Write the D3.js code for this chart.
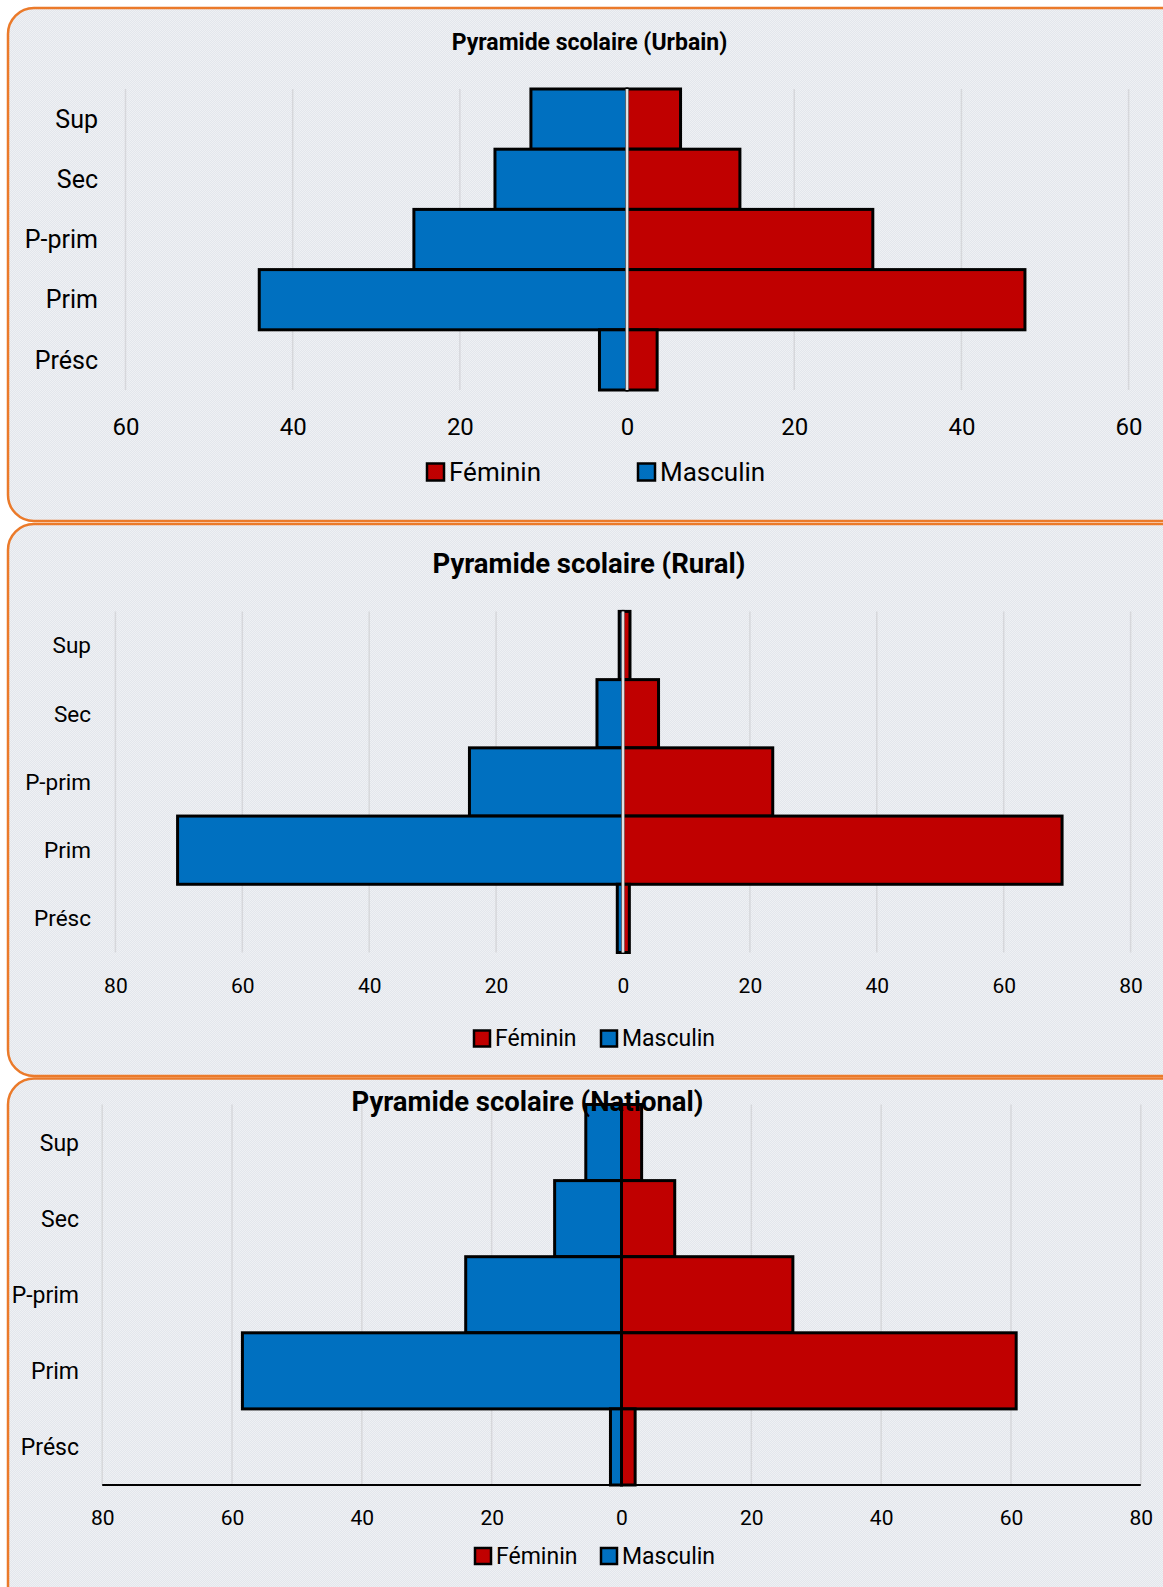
<!DOCTYPE html>
<html>
<head>
<meta charset="utf-8">
<script src="https://cdn.jsdelivr.net/npm/d3@7"></script>
<style>
  html, body { margin: 0; padding: 0; background: #ffffff; }
  svg { display: block; }
  text { font-family: Roboto, "Noto Sans", sans-serif; fill: #000; }
</style>
</head>
<body>
<svg id="chart" width="1163" height="1587"></svg>
<script>
// ---------- DATA ----------
const categories = ["Sup", "Sec", "P-prim", "Prim", "Présc"];
const seriesNames = ["Féminin", "Masculin"];

const urbainFeminin  = [6.4, 13.5, 29.4, 47.6, 3.6];
const urbainMasculin = [11.5, 15.8, 25.5, 44.0, 3.3];

const ruralFeminin  = [1.1, 5.6, 23.6, 69.2, 1.0];
const ruralMasculin = [0.6, 4.1, 24.2, 70.2, 0.9];

const nationalFeminin  = [3.1, 8.2, 26.4, 60.8, 2.1];
const nationalMasculin = [5.5, 10.3, 24.0, 58.4, 1.7];

const urbainTicks = [-60, -40, -20, 0, 20, 40, 60];
const ruralTicks = [-80, -60, -40, -20, 0, 20, 40, 60, 80];
const nationalTicks = [-80, -60, -40, -20, 0, 20, 40, 60, 80];

const titles = ["Pyramide scolaire (Urbain)", "Pyramide scolaire (Rural)", "Pyramide scolaire (National)"];

// ---------- STYLE / LAYOUT ----------
const colorF = "#c00000";
const colorM = "#0070c0";
const svg = d3.select("#chart");

const defs = svg.append("defs");
const pat = defs.append("pattern").attr("id", "bgpat").attr("width", 2).attr("height", 2)
  .attr("patternUnits", "userSpaceOnUse");
pat.append("rect").attr("width", 2).attr("height", 2).attr("fill", "#e3e6ec");
pat.append("rect").attr("x", 0).attr("y", 0).attr("width", 1).attr("height", 1).attr("fill", "#eff1f4");
pat.append("rect").attr("x", 1).attr("y", 1).attr("width", 1).attr("height", 1).attr("fill", "#eff1f4");

const panels = [
  { title: titles[0], fem: urbainFeminin, mas: urbainMasculin, ticks: urbainTicks,
    panelTop: 8, panelBottom: 521, xL: 125.5, xR: 1128.6, bandTop: 89, bandBot: 390,
    titleX: 589.5, titleY: 42.5, titleSize: 23, catX: 98, catSize: 25, tickY: 427, tickSize: 24,
    legY: 472, legF: 427, legM: 638, sq: 17, legSize: 26, centerWhite: true, baseline: false },
  { title: titles[1], fem: ruralFeminin, mas: ruralMasculin, ticks: ruralTicks,
    panelTop: 524, panelBottom: 1076, xL: 115.4, xR: 1130.6, bandTop: 611.4, bandBot: 952.5,
    titleX: 589, titleY: 563, titleSize: 27.5, catX: 91, catSize: 22.5, tickY: 986, tickSize: 21,
    legY: 1038.5, legF: 474, legM: 601, sq: 16, legSize: 23, centerWhite: true, baseline: false },
  { title: titles[2], fem: nationalFeminin, mas: nationalMasculin, ticks: nationalTicks,
    panelTop: 1078.5, panelBottom: 1640, xL: 102.2, xR: 1140.8, bandTop: 1104.5, bandBot: 1485,
    titleX: 527.5, titleY: 1101, titleSize: 27.5, catX: 79, catSize: 23, tickY: 1518, tickSize: 21,
    legY: 1556, legF: 475, legM: 601, sq: 16, legSize: 23, centerWhite: false, baseline: true }
];

panels.forEach(p => {
  const g = svg.append("g");
  // panel background
  g.append("rect")
    .attr("x", 8).attr("y", p.panelTop)
    .attr("width", 1200).attr("height", p.panelBottom - p.panelTop)
    .attr("rx", 26).attr("ry", 26)
    .attr("fill", "url(#bgpat)")
    .attr("stroke", "#eb7a2a").attr("stroke-width", 2.5);

  const maxV = d3.max(p.ticks);
  const x = d3.scaleLinear().domain([-maxV, maxV]).range([p.xL, p.xR]);
  const y = d3.scaleBand().domain(categories).range([p.bandTop, p.bandBot]).padding(0);

  // gridlines
  g.append("g").selectAll("line").data(p.ticks).join("line")
    .attr("x1", d => x(d)).attr("x2", d => x(d))
    .attr("y1", p.bandTop).attr("y2", p.bandBot)
    .attr("stroke", "#d6d7db").attr("stroke-width", 1.5);

  const rows = categories.map((c, i) => ({ cat: c, f: p.fem[i], m: p.mas[i] }));

  // masculin bars (left)
  g.append("g").selectAll("rect").data(rows).join("rect")
    .attr("x", d => x(-d.m)).attr("y", d => y(d.cat))
    .attr("width", d => x(0) - x(-d.m)).attr("height", y.bandwidth())
    .attr("fill", colorM).attr("stroke", "#000").attr("stroke-width", 3);

  // feminin bars (right)
  g.append("g").selectAll("rect").data(rows).join("rect")
    .attr("x", x(0)).attr("y", d => y(d.cat))
    .attr("width", d => x(d.f) - x(0)).attr("height", y.bandwidth())
    .attr("fill", colorF).attr("stroke", "#000").attr("stroke-width", 3);

  // centre line
  if (p.centerWhite) {
    g.append("line").attr("x1", x(0)).attr("x2", x(0))
      .attr("y1", p.bandTop).attr("y2", p.bandBot)
      .attr("stroke", "#b5b5b5").attr("stroke-width", 3);
    g.append("line").attr("x1", x(0)).attr("x2", x(0))
      .attr("y1", p.bandTop).attr("y2", p.bandBot)
      .attr("stroke", "#ffffff").attr("stroke-width", 1.2);
  }

  if (p.baseline) {
    g.append("line").attr("x1", p.xL).attr("x2", p.xR)
      .attr("y1", p.bandBot).attr("y2", p.bandBot)
      .attr("stroke", "#000").attr("stroke-width", 2);
  }

  // x tick labels
  const xAxis = d3.axisBottom(x).tickValues(p.ticks).tickFormat(d => Math.abs(d)).tickSize(0).tickPadding(0);
  const xg = g.append("g").attr("transform", `translate(0,${p.tickY})`).call(xAxis);
  xg.select(".domain").remove();
  xg.selectAll("text").attr("dy", "0.35em").attr("font-size", p.tickSize)
    .attr("font-family", "Roboto").attr("fill", "#000");

  // category labels
  const yAxis = d3.axisLeft(y).tickSize(0).tickPadding(0);
  const yg = g.append("g").attr("transform", `translate(${p.catX},0)`).call(yAxis);
  yg.select(".domain").remove();
  yg.selectAll("text").attr("dy", "0.35em").attr("font-size", p.catSize)
    .attr("font-family", "Roboto").attr("fill", "#000");

  // title (drawn above bars)
  g.append("text").attr("x", p.titleX).attr("y", p.titleY)
    .attr("text-anchor", "middle").attr("dominant-baseline", "central")
    .attr("font-size", p.titleSize).attr("font-weight", "bold")
    .text(p.title);

  // legend
  const leg = [{ name: seriesNames[0], color: colorF, x: p.legF }, { name: seriesNames[1], color: colorM, x: p.legM }];
  const lg = g.append("g").selectAll("g").data(leg).join("g");
  lg.append("rect")
    .attr("x", d => d.x).attr("y", p.legY - p.sq / 2)
    .attr("width", p.sq).attr("height", p.sq)
    .attr("fill", d => d.color).attr("stroke", "#000").attr("stroke-width", 2.5);
  lg.append("text")
    .attr("x", d => d.x + p.sq + 5).attr("y", p.legY)
    .attr("dominant-baseline", "central")
    .attr("font-size", p.legSize)
    .text(d => d.name);
});
</script>
</body>
</html>
